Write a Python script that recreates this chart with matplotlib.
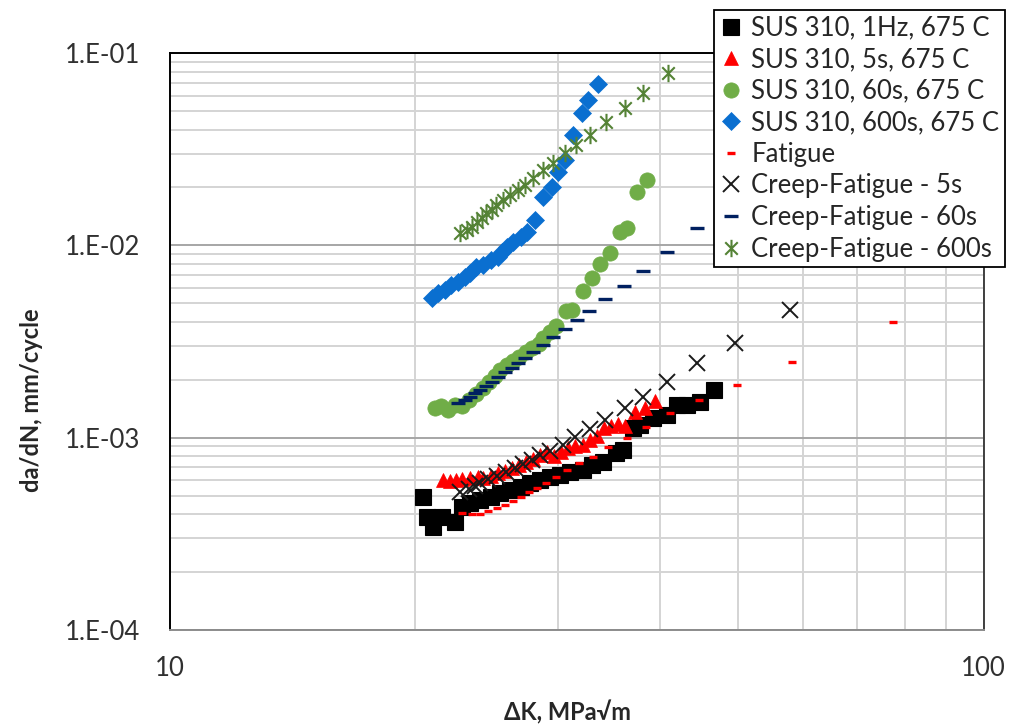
import matplotlib
matplotlib.use("Agg")
import matplotlib.pyplot as plt
from matplotlib.path import Path
from matplotlib.ticker import FixedLocator, LogLocator, NullFormatter

plt.rcParams['font.family'] = ['Lato', 'DejaVu Sans']

# --- crack growth data: dK (MPa*sqrt(m)) vs da/dN (mm/cycle) ---
sus_1hz_dk = [20.5, 20.7, 21.1, 21.6, 22.4, 22.9, 23.4, 24.1, 24.8, 25.5, 26.2, 27.0, 27.7, 28.5,
              29.35, 30.2, 31.05, 32.2, 33.0, 34.1, 35.4, 36.1, 37.1, 37.8, 39.3, 40.8, 42.0,
              43.2, 44.8, 46.6]
sus_1hz_dadn = [4.93e-4, 3.88e-4, 3.44e-4, 3.88e-4, 3.65e-4, 4.37e-4, 4.55e-4, 4.74e-4, 4.93e-4,
                5.13e-4, 5.34e-4, 5.55e-4, 5.78e-4, 6.02e-4, 6.26e-4, 6.39e-4, 6.65e-4, 6.79e-4,
                7.20e-4, 7.49e-4, 8.29e-4, 8.62e-4, 1.118e-3, 1.163e-3, 1.260e-3, 1.311e-3,
                1.477e-3, 1.477e-3, 1.537e-3, 1.768e-3]

sus_5s_dk = [21.7, 22.1, 22.5, 22.9, 23.4, 23.9, 24.3, 24.8, 25.3, 25.8, 26.35, 26.9, 27.4, 27.96,
             28.5, 29.1, 29.7, 30.3, 30.9, 31.5, 32.2, 32.85, 33.5, 34.2, 34.9, 35.6, 36.3, 37.3,
             38.4, 39.5]
sus_5s_dadn = [6.02e-4, 5.95e-4, 6.02e-4, 6.09e-4, 6.17e-4, 6.24e-4, 6.17e-4, 6.32e-4, 6.55e-4,
               6.70e-4, 6.95e-4, 7.20e-4, 7.47e-4, 7.74e-4, 8.12e-4, 8.42e-4, 8.02e-4, 8.42e-4,
               8.83e-4, 9.04e-4, 9.15e-4, 9.72e-4, 1.019e-3, 1.122e-3, 1.149e-3, 1.177e-3,
               1.149e-3, 1.359e-3, 1.425e-3, 1.550e-3]

sus_60s_dk = [21.2, 21.55, 22.0, 22.4, 22.9, 23.3, 23.8, 24.3, 24.7, 25.1, 25.5, 26.0, 26.4, 26.9,
              27.4, 27.9, 28.4, 28.8, 29.3, 29.85, 30.7, 31.2, 32.2, 33.0, 33.8, 34.8, 35.8, 36.5,
              37.5, 38.6]
sus_60s_dadn = [1.425e-3, 1.460e-3, 1.391e-3, 1.477e-3, 1.460e-3, 1.569e-3, 1.686e-3, 1.811e-3,
                1.946e-3, 2.091e-3, 2.246e-3, 2.385e-3, 2.502e-3, 2.625e-3, 2.787e-3, 2.924e-3,
                3.067e-3, 3.295e-3, 3.541e-3, 3.804e-3, 4.553e-3, 4.608e-3, 5.785e-3, 6.761e-3,
                7.99e-3, 9.12e-3, 1.173e-2, 1.230e-2, 1.893e-2, 2.185e-2]

sus_600s_dk = [21.0, 21.4, 21.8, 22.2, 22.6, 23.1, 23.4, 23.8, 24.3, 24.8, 25.3, 25.6, 26.0, 26.4,
               27.0, 27.5, 28.1, 28.8, 29.5, 30.0, 30.6, 31.3, 32.1, 32.7, 33.6]
sus_600s_dadn = [5.30e-3, 5.63e-3, 5.86e-3, 6.22e-3, 6.47e-3, 6.87e-3, 7.15e-3, 7.74e-3, 7.90e-3,
                 8.39e-3, 8.72e-3, 9.26e-3, 9.83e-3, 1.044e-2, 1.108e-2, 1.177e-2, 1.354e-2,
                 1.789e-2, 2.017e-2, 2.414e-2, 2.777e-2, 3.746e-2, 4.858e-2, 5.695e-2, 6.90e-2]

fatigue_dk = [22.9, 23.5, 24.1, 24.6, 25.25, 25.8, 26.4, 27.0, 27.65, 28.3, 29.0, 29.85, 30.8,
              31.85, 33.1, 34.6, 36.5, 38.5, 41.2, 44.7, 49.8, 58.2, 77.4]
fatigue_dadn = [4.05e-4, 4.01e-4, 4.01e-4, 4.15e-4, 4.30e-4, 4.46e-4, 4.68e-4, 4.91e-4, 5.21e-4,
                5.47e-4, 5.81e-4, 6.24e-4, 6.79e-4, 7.38e-4, 7.93e-4, 8.94e-4, 9.95e-4, 1.135e-3,
                1.343e-3, 1.569e-3, 1.877e-3, 2.472e-3, 3.990e-3]

cf_5s_dk = [22.75, 23.3, 23.7, 24.1, 24.6, 25.25, 25.9, 26.6, 27.2, 27.9, 28.5, 29.35, 30.4, 31.5,
            32.85, 34.3, 36.3, 38.2, 40.85, 44.5, 49.5, 57.8]
cf_5s_dadn = [5.21e-4, 5.40e-4, 5.60e-4, 5.81e-4, 6.09e-4, 6.32e-4, 6.62e-4, 6.95e-4, 7.29e-4,
              7.65e-4, 8.12e-4, 8.52e-4, 9.15e-4, 1.007e-3, 1.108e-3, 1.234e-3, 1.425e-3,
              1.626e-3, 1.946e-3, 2.443e-3, 3.104e-3, 4.608e-3]

cf_60s_dk = [22.6, 23.1, 23.4, 23.7, 24.1, 24.5, 24.9, 25.3, 25.8, 26.35, 26.8, 27.3, 28.0, 28.8,
             29.6, 30.6, 31.7, 32.8, 34.3, 36.2, 38.2, 40.9, 44.5]
cf_60s_dadn = [1.513e-3, 1.569e-3, 1.626e-3, 1.706e-3, 1.768e-3, 1.855e-3, 1.946e-3, 2.066e-3,
               2.193e-3, 2.301e-3, 2.443e-3, 2.594e-3, 2.787e-3, 3.030e-3, 3.335e-3, 3.670e-3,
               4.087e-3, 4.553e-3, 5.256e-3, 6.143e-3, 7.35e-3, 9.23e-3, 1.230e-2]

cf_600s_dk = [22.75, 23.2, 23.5, 23.85, 24.2, 24.5, 24.9, 25.2, 25.7, 26.2, 26.8, 27.3, 28.0, 28.8,
              29.6, 30.6, 31.6, 32.9, 34.4, 36.3, 38.2, 41.0]
cf_600s_dadn = [1.154e-2, 1.201e-2, 1.249e-2, 1.326e-2, 1.382e-2, 1.467e-2, 1.526e-2, 1.620e-2,
                1.720e-2, 1.826e-2, 1.940e-2, 2.059e-2, 2.230e-2, 2.464e-2, 2.669e-2, 3.008e-2,
                3.323e-2, 3.746e-2, 4.391e-2, 5.157e-2, 6.172e-2, 7.84e-2]

series_labels = ["SUS 310, 1Hz, 675 C", "SUS 310, 5s, 675 C", "SUS 310, 60s, 675 C",
                 "SUS 310, 600s, 675 C", "Fatigue", "Creep-Fatigue - 5s",
                 "Creep-Fatigue - 60s", "Creep-Fatigue - 600s"]

x_tick_values = [10, 100]
x_tick_labels = ["10", "100"]
y_tick_values = [1e-4, 1e-3, 1e-2, 1e-1]
y_tick_labels = ["1.E-04", "1.E-03", "1.E-02", "1.E-01"]

# asterisk made of an x plus a vertical bar
star = Path([(0, -1), (0, 1), (-0.72, -0.72), (0.72, 0.72), (-0.72, 0.72), (0.72, -0.72)],
            [Path.MOVETO, Path.LINETO] * 3)

W, H = 1018, 728
fig = plt.figure(figsize=(W / 100, H / 100), dpi=100)
ax = fig.add_axes([169.5 / W, 1 - 630 / H, (983.5 - 169.5) / W, (630 - 53) / H])
ax.set_xscale('log')
ax.set_yscale('log')
ax.set_xlim(10, 100)
ax.set_ylim(1e-4, 1e-1)

ax.plot(sus_1hz_dk, sus_1hz_dadn, ls='none', marker='s', ms=12, mfc='black', mec='black', mew=0.8,
        label=series_labels[0])
ax.plot(sus_5s_dk, sus_5s_dadn, ls='none', marker='^', ms=10.5, mfc='#ff0000', mec='#ff0000',
        mew=0.5, label=series_labels[1])
ax.plot(sus_60s_dk, sus_60s_dadn, ls='none', marker='o', ms=11, mfc='#70ad47', mec='#70ad47',
        mew=0.5, label=series_labels[2])
ax.plot(sus_600s_dk, sus_600s_dadn, ls='none', marker='D', ms=9, mfc='#0a6fd0', mec='#0a6fd0',
        mew=0.5, label=series_labels[3])
ax.plot(fatigue_dk, fatigue_dadn, ls='none', marker='_', ms=6, mec='#ff0000', mew=2.4,
        label=series_labels[4])
ax.plot(cf_5s_dk, cf_5s_dadn, ls='none', marker='x', ms=11.5, mec='#1a1a1a', mew=1.4,
        label=series_labels[5])
ax.plot(cf_60s_dk, cf_60s_dadn, ls='none', marker='_', ms=10.5, mec='#002060', mew=2.4,
        label=series_labels[6])
ax.plot(cf_600s_dk, cf_600s_dadn, ls='none', marker=star, ms=12.5, mec='#548235', mfc='none',
        mew=1.5, label=series_labels[7])

# ticks and grid
ax.xaxis.set_major_locator(FixedLocator(x_tick_values))
ax.set_xticklabels(x_tick_labels)
ax.xaxis.set_minor_locator(LogLocator(base=10, subs=range(2, 10)))
ax.xaxis.set_minor_formatter(NullFormatter())
ax.yaxis.set_major_locator(FixedLocator(y_tick_values))
ax.set_yticklabels(y_tick_labels)
ax.yaxis.set_minor_locator(LogLocator(base=10, subs=range(2, 10)))
ax.yaxis.set_minor_formatter(NullFormatter())
ax.tick_params(which='both', length=0)
ax.tick_params(axis='y', pad=21, labelsize=18.5, labelcolor='#303030')
ax.tick_params(axis='x', pad=19, labelsize=18.5, labelcolor='#303030')

ax.grid(True, which='major', color='#a6a6a6', lw=1.4)
ax.grid(True, which='minor', color='#d4d4d4', lw=1.4)
ax.set_axisbelow(True)

for side in ('left', 'top'):
    ax.spines[side].set_color('black')
    ax.spines[side].set_linewidth(1.4)
ax.spines['right'].set_color('#404040')
ax.spines['right'].set_linewidth(1.4)
ax.spines['bottom'].set_color('#8c8c8c')
ax.spines['bottom'].set_linewidth(1.4)

fig.text(568 / W, 1 - 712 / H, "ΔK, MPa√m", ha='center', va='center', fontsize=17,
         fontweight='bold', color='#262626')
fig.text(32 / W, 1 - 400 / H, "da/dN, mm/cycle", ha='center', va='center', rotation=90,
         fontsize=17, fontweight='bold', color='#262626')

leg = ax.legend(loc='upper right', bbox_to_anchor=(1005 / W, 1 - 10 / H),
                bbox_transform=fig.transFigure, borderaxespad=0, fancybox=False,
                edgecolor='black', framealpha=1, fontsize=18.5, numpoints=1,
                handlelength=0.9, handletextpad=0.35, borderpad=0.22, labelspacing=0.255)
leg.get_frame().set_linewidth(1.3)
for t in leg.get_texts():
    t.set_color('#262626')

fig.savefig("out.png", dpi=100, facecolor='white')
